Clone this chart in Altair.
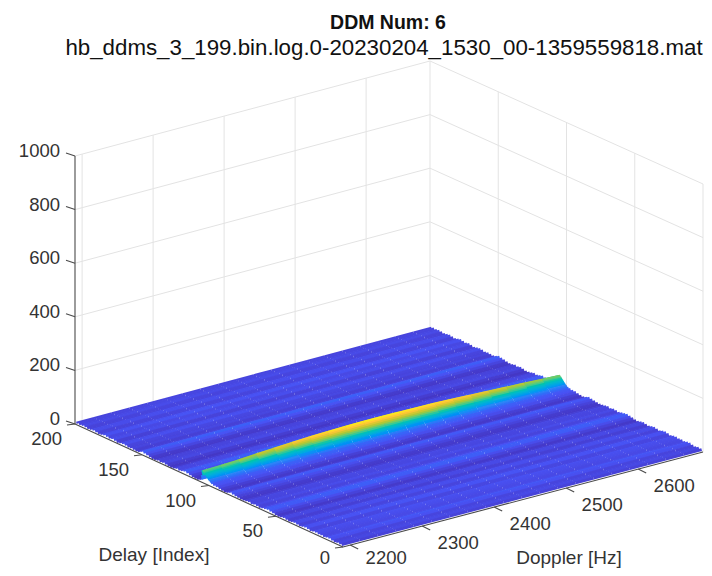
import altair as alt
import pandas as pd

title_1 = "DDM Num: 6"
title_2 = "hb_ddms_3_199.bin.log.0-20230204_1530_00-1359559818.mat"
x_name = "Doppler [Hz]"
y_name = "Delay [Index]"
doppler_ticks = [2200, 2300, 2400, 2500, 2600]
delay_ticks = [0, 50, 100, 150, 200]
z_ticks = [0, 200, 400, 600, 800, 1000]

doppler_nodes = [2190, 2215, 2240, 2265, 2290, 2315, 2340, 2365, 2390, 2415, 2440,
                 2465, 2490, 2515, 2540, 2565, 2590, 2615, 2640, 2665, 2690]
delay_rows = [200, 198, 196, 194, 192, 190, 188, 186, 184, 182, 180, 178, 176, 174, 172, 170,
              168, 166, 164, 162, 160, 158, 156, 154, 152, 150, 148, 146, 144, 142, 140, 138,
              136, 134, 132, 130, 128, 126, 124, 122, 120, 118, 116, 114, 112, 110, 108,
              106, 105.5, 105, 104.5, 104, 103.5, 103, 102.5, 102, 101.5, 101, 100.5, 100, 99, 98,
              96, 94, 92, 90, 88, 86, 84, 82, 80, 78, 76, 74, 72, 70, 68, 66, 64, 62, 60, 58,
              56, 54, 52, 50, 48, 46, 44, 42, 40, 38, 36, 34, 32, 30, 28, 26, 24, 22, 20, 18,
              16, 14, 12, 10, 8, 6, 4, 2, 0]
row_level = [6, 8, 7, 9, 8, 6, 8, 10, 8, 6, 8, 11, 9, 7, 10, 8,
             5, 8, 10, 9, 6, 8, 7, 5, 8, 13, 11, 9, 6, 4, 5, 8,
             6, 9, 7, 4, 4, 6, 9, 7, 10, 13, 11, 8, 5, 4, 5,
             6, 6, 6, 6, 6, 6, 6, 6, 6, 6, 6, 6, 6, 7, 7,
             8, 10, 7, 5, 4, 7, 12, 10, 8, 6, 4, 5, 7, 9, 6, 9, 8, 6, 9, 11,
             13, 10, 8, 5, 4, 7, 9, 7, 5, 8, 10, 8, 6, 9, 11, 9, 6, 9, 10, 8,
             9, 7, 10, 11, 8, 6, 9, 7, 6]
ridge_share = [0, 0, 0, 0, 0, 0, 0, 0, 0, 0, 0, 0, 0, 0, 0, 0,
               0, 0, 0, 0, 0, 0, 0, 0, 0, 0, 0, 0, 0, 0, 0, 0,
               0, 0, 0, 0, 0, 0, 0, 0, 0, 0, 0, 0, 0, 0, 0,
               .08, .5, 1, .96, .9, .83, .75, .67, .59, .51, .44, .37, .31, .2, .12,
               .05, .01, 0, 0, 0, 0, 0, 0, 0, 0, 0, 0, 0, 0, 0, 0, 0, 0, 0, 0,
               0, 0, 0, 0, 0, 0, 0, 0, 0, 0, 0, 0, 0, 0, 0, 0, 0, 0, 0, 0,
               0, 0, 0, 0, 0, 0, 0, 0, 0]
floor_shape = [.95, .96, .98, 1, 1.02, 1.03, 1.02, 1, 1, 1.01, 1.02,
               1.03, 1.02, 1, .99, .98, 1, 1.02, 1, .97, .95]
ridge_doppler = [38, 40, 43, 47, 51, 55, 58, 60, 62, 63, 63,
                 62, 61, 60, 58, 55, 52, 49, 46, 43, 40]

F, R, L, B = (343, 547), (703, 452), (75, 424), (430, 329)
Z_PX = 0.268
BOTTOM_TEXT_LIMIT = 558


def project(dop, delay, z=0.0):
    u = (dop - 2190) / 500
    v = delay / 200
    x = (1-u)*(1-v)*F[0] + u*(1-v)*R[0] + (1-u)*v*L[0] + u*v*B[0]
    y = (1-u)*(1-v)*F[1] + u*(1-v)*R[1] + (1-u)*v*L[1] + u*v*B[1]
    return x, y - Z_PX*z


def height(i, j):
    return row_level[i]*floor_shape[j] + ridge_share[i]*ridge_doppler[j]


cells = []
for i in range(len(delay_rows) - 1):
    d0, d1 = delay_rows[i], delay_rows[i+1]
    for j in range(len(doppler_nodes) - 1):
        a0 = project(doppler_nodes[j], d0, height(i, j))
        b0 = project(doppler_nodes[j+1], d0, height(i, j+1))
        a1 = project(doppler_nodes[j], d1, height(i+1, j))
        b1 = project(doppler_nodes[j+1], d1, height(i+1, j+1))
        dx, dy = b0[0]-a0[0], b0[1]-a0[1]
        n = (dx*dx+dy*dy)**.5
        gap = abs(((a1[0]+b1[0]-a0[0]-b0[0])/2*dy - (a1[1]+b1[1]-a0[1]-b0[1])/2*dx)/n)
        cells.append({
            "x": (a0[0]+a1[0])/2, "y": (a0[1]+a1[1])/2,
            "x2": (b0[0]+b1[0])/2, "y2": (b0[1]+b1[1])/2,
            "w": gap + .7,
            "z": (height(i, j)+height(i, j+1)+height(i+1, j)+height(i+1, j+1))/4,
        })
surface = pd.DataFrame(cells)

grid, axes, texts = [], [], []


def seg(store, p, q):
    store.append({"x": p[0], "y": p[1], "x2": q[0], "y2": q[1]})


for z in z_ticks:
    seg(grid, project(2190, 200, z), project(2690, 200, z))
    seg(grid, project(2690, 200, z), project(2690, 0, z))
for d in doppler_ticks:
    seg(grid, project(d, 200, 0), project(d, 200, 1000))
for d in delay_ticks:
    seg(grid, project(2690, d, 0), project(2690, d, 1000))

seg(axes, F, R)
seg(axes, F, L)
seg(axes, project(2190, 200, 0), project(2190, 200, 1000))
for d in doppler_ticks:
    p = project(d, 0)
    seg(axes, p, (p[0]+8, p[1]+4))
    texts.append({"x": p[0]+36, "y": min(p[1]+17, BOTTOM_TEXT_LIMIT), "t": str(d), "a": "center"})
for d in delay_ticks:
    p = project(2190, d)
    seg(axes, p, (p[0]-8, p[1]+1))
    texts.append({"x": p[0]-13, "y": min(p[1]+15, BOTTOM_TEXT_LIMIT), "t": str(d), "a": "right"})
for z in z_ticks:
    p = project(2190, 200, z)
    seg(axes, p, (p[0]-9, p[1]-3))
    texts.append({"x": p[0]-15, "y": p[1]-5, "t": str(z), "a": "right"})

X = alt.X("x:Q", scale=alt.Scale(domain=[8, 704], range=[0, 696], nice=False, zero=False), axis=None)
Y = alt.Y("y:Q", scale=alt.Scale(domain=[568, 8], range=[560, 0], nice=False, zero=False), axis=None)

parula = ["#3e26a8", "#4852f4", "#2d87f7", "#11b1d6", "#37c897", "#abc739", "#fec338", "#f9fb15"]

grid_layer = alt.Chart(pd.DataFrame(grid)).mark_rule(color="#e3e3e3", strokeWidth=1).encode(
    x=X, y=Y, x2="x2:Q", y2="y2:Q")
surface_layer = alt.Chart(surface).mark_rule(strokeCap="butt").encode(
    x=X, y=Y, x2="x2:Q", y2="y2:Q",
    size=alt.Size("w:Q", scale=None, legend=None),
    color=alt.Color("z:Q", scale=alt.Scale(domain=[0, 70], range=parula, clamp=True), legend=None),
)
axes_layer = alt.Chart(pd.DataFrame(axes)).mark_rule(color="#4a4a4a", strokeWidth=1.1).encode(
    x=X, y=Y, x2="x2:Q", y2="y2:Q")

font = "Liberation Sans"
tick_text = alt.Chart(pd.DataFrame([t for t in texts if t["a"] == "right"])).mark_text(
    font=font, fontSize=18.5, color="#333333", align="right", baseline="middle"
).encode(x=X, y=Y, text="t:N")
tick_text_c = alt.Chart(pd.DataFrame([t for t in texts if t["a"] == "center"])).mark_text(
    font=font, fontSize=18.5, color="#333333", align="center", baseline="middle"
).encode(x=X, y=Y, text="t:N")
names = alt.Chart(pd.DataFrame([
    {"x": 154, "y": 555, "t": y_name},
    {"x": 569, "y": BOTTOM_TEXT_LIMIT, "t": x_name},
])).mark_text(font=font, fontSize=19, color="#333333", baseline="middle").encode(x=X, y=Y, text="t:N")
head1 = alt.Chart(pd.DataFrame([{"x": 388, "y": 23, "t": title_1}])).mark_text(
    font=font, fontSize=19.5, fontWeight="bold", color="#111111", baseline="middle").encode(x=X, y=Y, text="t:N")
head2 = alt.Chart(pd.DataFrame([{"x": 384, "y": 48, "t": title_2}])).mark_text(
    font=font, fontSize=22.3, color="#111111", baseline="middle").encode(x=X, y=Y, text="t:N")

chart = alt.layer(grid_layer, surface_layer, axes_layer, tick_text, tick_text_c, names, head1, head2).properties(
    width=696, height=560, padding=0, autosize=alt.AutoSizeParams(type="none")
).configure_view(stroke=None)

chart.save("out.html", embed_options={"renderer": "svg", "actions": False})
